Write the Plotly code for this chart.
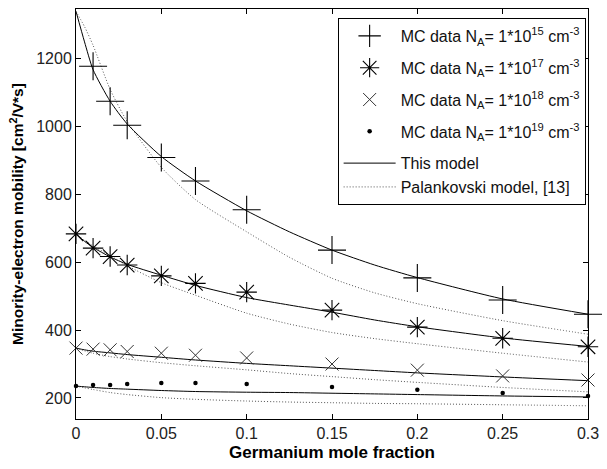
import plotly.graph_objects as go

# ---- data -------------------------------------------------------------
x_mc = [0.0, 0.01, 0.02, 0.03, 0.05, 0.07, 0.1, 0.15, 0.2, 0.25, 0.3]
x_mc1 = [0.01, 0.02, 0.03, 0.05, 0.07, 0.1, 0.15, 0.2, 0.25, 0.3]

mc_1e15 = [1178, 1075, 1004, 909, 840, 755, 636, 554, 489, 447]
mc_1e17 = [684, 642, 617, 592, 560, 538, 512, 459, 409, 376, 351]
mc_1e18 = [347, 344, 342, 337, 332, 326, 318, 300, 282, 265, 253]
mc_1e19 = [235, 238, 238, 241, 244, 244, 241, 232, 224, 215, 206]

x_model = [0.0, 0.005, 0.01, 0.02, 0.03, 0.05, 0.07, 0.1, 0.125, 0.15, 0.175, 0.2, 0.25, 0.3]
model_1e15 = [1340, 1250, 1168, 1075, 1008, 912, 840, 752, 690, 636, 592, 555, 492, 447]
model_1e17 = [685, 662, 644, 616, 594, 562, 532, 496, 474, 453, 430, 410, 377, 352]
model_1e18 = [347, 342, 338, 333, 328, 320, 312, 302, 295, 288, 281, 274, 262, 251]
model_1e19 = [235, 233, 231, 228, 226, 222, 219, 217, 216, 214, 212, 210, 206, 203]

pal_1e15 = [1340, 1295, 1240, 1110, 1015, 880, 785, 690, 615, 553, 510, 478, 428, 388]
pal_1e17 = [684, 665, 648, 620, 590, 540, 503, 450, 418, 393, 375, 360, 332, 306]
pal_1e18 = [347, 339, 332, 322, 315, 304, 295, 283, 272, 263, 254, 246, 231, 218]
pal_1e19 = [235, 230, 225, 216, 210, 201, 196, 191, 188, 186, 184, 183, 180, 177]

x_ticks = [0, 0.05, 0.1, 0.15, 0.2, 0.25, 0.3]
x_ticklabels = ["0", "0.05", "0.1", "0.15", "0.2", "0.25", "0.3"]
y_ticks = [200, 400, 600, 800, 1000, 1200]

labels = [
    "MC data N<sub>A</sub>= 1*10<sup>15</sup> cm<sup>-3</sup>",
    "MC data N<sub>A</sub>= 1*10<sup>17</sup> cm<sup>-3</sup>",
    "MC data N<sub>A</sub>= 1*10<sup>18</sup> cm<sup>-3</sup>",
    "MC data N<sub>A</sub>= 1*10<sup>19</sup> cm<sup>-3</sup>",
]

FONT = "Liberation Sans, Arial"
DOT = "1px,2px"

# ---- figure -------------------------------------------------------------
fig = go.Figure()

models = [model_1e15, model_1e17, model_1e18, model_1e19]
pals = [pal_1e15, pal_1e17, pal_1e18, pal_1e19]

for m in models:
    fig.add_trace(go.Scatter(x=x_model, y=m, mode="lines",
                             line=dict(color="black", width=1, shape="spline", smoothing=0.6),
                             showlegend=False, hoverinfo="skip"))
for p in pals:
    fig.add_trace(go.Scatter(x=x_model, y=p, mode="lines",
                             line=dict(color="#555555", width=1, dash=DOT, shape="spline", smoothing=0.6),
                             showlegend=False, hoverinfo="skip"))

mk = [
    (x_mc1, mc_1e15, dict(symbol="cross-thin", size=20, line=dict(color="black", width=1.1), color="black")),
    (x_mc, mc_1e17, dict(symbol="asterisk", size=17, line=dict(color="black", width=1.1), color="black")),
    (x_mc, mc_1e18, dict(symbol="x-thin", size=13, line=dict(color="#333333", width=1), color="#333333")),
    (x_mc, mc_1e19, dict(symbol="circle", size=4.5, color="black", line=dict(width=0))),
]
for i, (xx, yy, mdict) in enumerate(mk):
    fig.add_trace(go.Scatter(x=xx, y=yy, mode="markers", marker=mdict,
                             name=labels[i], cliponaxis=False,
                             legendgroup="mc%d" % i, legendrank=i + 1))

# legend-only entries for the two model line styles
fig.add_trace(go.Scatter(x=[None], y=[None], mode="lines",
                         line=dict(color="black", width=1),
                         name="This model", legendgroup="lines", legendrank=5))
fig.add_trace(go.Scatter(x=[None], y=[None], mode="lines",
                         line=dict(color="#555555", width=1, dash=DOT),
                         name="Palankovski model, [13]", legendgroup="lines", legendrank=6))

axis_common = dict(showline=True, linecolor="black", linewidth=1, mirror="ticks",
                   ticks="inside", ticklen=5, tickcolor="black", showgrid=False,
                   zeroline=False,
                   tickfont=dict(family=FONT, size=16, color="#222222"))

fig.update_xaxes(range=[0, 0.3], tickvals=x_ticks, ticktext=x_ticklabels,
                 ticklabeloverflow="allow",
                 title=dict(text="<b>Germanium mole fraction</b>",
                            font=dict(family=FONT, size=17, color="black"),
                            standoff=4),
                 **axis_common)
fig.update_yaxes(range=[138, 1347], tickvals=y_ticks,
                 title=dict(text="<b>Minority-electron mobility [cm<sup>2</sup>/V*s]</b>",
                            font=dict(family=FONT, size=15.5, color="black"),
                            standoff=8),
                 **axis_common)

fig.update_layout(
    width=607, height=469,
    margin=dict(l=76, r=10, t=8, b=50),
    paper_bgcolor="white", plot_bgcolor="white",
    font=dict(family=FONT, color="black"),
    showlegend=True,
    legend=dict(x=0.511, y=0.978, xanchor="left", yanchor="top",
                bgcolor="white", bordercolor="black", borderwidth=1,
                font=dict(family=FONT, size=16, color="#111111"),
                itemwidth=52, tracegroupgap=8, traceorder="grouped"),
)

fig.write_html("out.html")
